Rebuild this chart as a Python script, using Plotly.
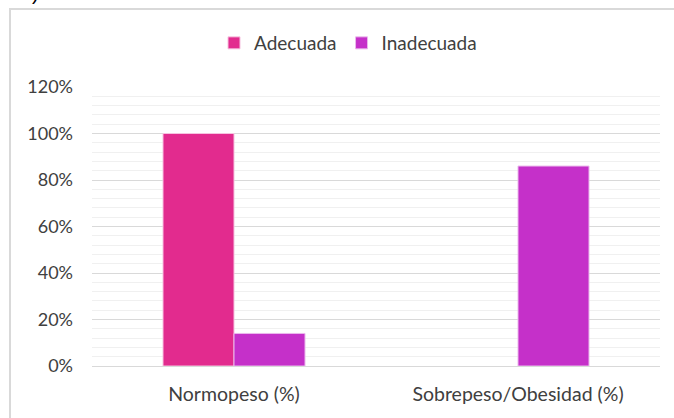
import plotly.graph_objects as go

categories = ["Normopeso (%)", "Sobrepeso/Obesidad (%)"]
adecuada = [1.00, 0.0]
inadecuada = [0.14, 0.86]
tick_vals = [0, 0.2, 0.4, 0.6, 0.8, 1.0, 1.2]
tick_text = ["0%", "20%", "40%", "60%", "80%", "100%", "120%"]

FONT = "Lato"
TXT = "#404040"

def outline_widths(values):
    # no outline on empty bars, so a zero value leaves no stray line
    return [1 if v > 0 else 0 for v in values]

fig = go.Figure()
fig.add_trace(go.Bar(
    name="Adecuada", x=categories, y=adecuada,
    marker=dict(color="#E22B8E",
                line=dict(color="#F6C2DF", width=outline_widths(adecuada))),
))
fig.add_trace(go.Bar(
    name="Inadecuada", x=categories, y=inadecuada,
    marker=dict(color="#C530C9",
                line=dict(color="#EAB8EC", width=outline_widths(inadecuada))),
))

W, H = 674, 418
L, R, T, B = 92, 14, 87, 52
pw, ph = W - L - R, H - T - B

def px_x(x):
    return (x - L) / pw

def px_y(y):
    return 1 - (y - T) / ph

fig.update_layout(
    width=W, height=H,
    margin=dict(l=L, r=R, t=T, b=B),
    paper_bgcolor="white", plot_bgcolor="white",
    barmode="group", bargap=0.5, bargroupgap=0,
    font=dict(family=FONT, size=18, color=TXT),
    showlegend=True,
    legend=dict(
        orientation="h", x=px_x(214), xanchor="left",
        y=px_y(43), yanchor="middle",
        font=dict(family=FONT, size=19, color=TXT),
        itemwidth=30, tracegroupgap=0,
    ),
    xaxis=dict(
        showgrid=False, showline=False, zeroline=False,
        tickfont=dict(family=FONT, size=19.5, color=TXT),
        ticks="", ticklabelstandoff=14,
    ),
    yaxis=dict(
        range=[0, 1.2], tickvals=tick_vals, ticktext=tick_text,
        showgrid=True, gridcolor="#D9D9D9", gridwidth=1.3,
        zeroline=True, zerolinecolor="#D9D9D9", zerolinewidth=1.3,
        showline=False, ticks="", ticklabelstandoff=18,
        tickfont=dict(family=FONT, size=18, color=TXT),
        minor=dict(dtick=0.04, showgrid=True, gridcolor="#F0F0F0", gridwidth=1.3),
    ),
    shapes=[dict(
        type="rect", xref="paper", yref="paper",
        x0=px_x(10), x1=px_x(690), y0=px_y(440), y1=px_y(9),
        line=dict(color="#D9D9D9", width=2), fillcolor="rgba(0,0,0,0)",
        layer="below",
    )],
    annotations=[dict(
        text="(Figura 4).", xref="paper", yref="paper",
        x=px_x(46), y=px_y(6), xanchor="right", yanchor="bottom",
        showarrow=False, font=dict(family="Liberation Sans", size=20, color="#000000"),
    )],
)

fig.write_html("out.html")
